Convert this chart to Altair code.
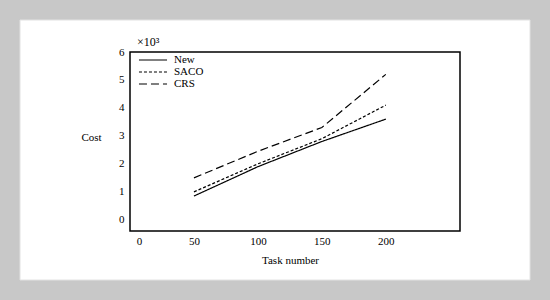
import altair as alt
import pandas as pd

tasks = [50, 100, 150, 200]
new_cost = [0.85, 1.9, 2.8, 3.6]
saco_cost = [1.0, 2.0, 2.9, 4.1]
crs_cost = [1.5, 2.45, 3.3, 5.2]
series = ["New", "SACO", "CRS"]
x_ticks = [0, 50, 100, 150, 200]
y_ticks = [0, 1, 2, 3, 4, 5, 6]

rows = []
for name, vals in zip(series, [new_cost, saco_cost, crs_cost]):
    for t, v in zip(tasks, vals):
        rows.append({"task": t, "cost": v, "series": name})
df = pd.DataFrame(rows)

FONT = "Liberation Serif"
one = pd.DataFrame({"a": [0]})

card = alt.Chart(one).mark_rect(
    color="white", stroke="#e2e2e2", strokeWidth=1
).encode(
    x=alt.value(-110), x2=alt.value(400), y=alt.value(-32), y2=alt.value(228)
)

frame = alt.Chart(one).mark_rect(
    fill=None, stroke="black", strokeWidth=1.5
).encode(
    x=alt.value(0), x2=alt.value(330), y=alt.value(0), y2=alt.value(179)
)

lines = alt.Chart(df).mark_line(color="black", strokeWidth=1.2).encode(
    x=alt.X("task:Q", scale=alt.Scale(domain=[0, 258], nice=False, zero=False),
            axis=alt.Axis(values=x_ticks, title="Task number", grid=False, ticks=False,
                          domain=False, labelFlush=False, labelPadding=4,
                          labelOffset={"condition": {"test": "datum.value === 0", "value": 9}, "value": 0},
                          titleX=160, titlePadding=8, zindex=1)),
    y=alt.Y("cost:Q", scale=alt.Scale(domain=[-0.4, 6], nice=False, zero=False),
            axis=alt.Axis(values=y_ticks, title="Cost", grid=False, ticks=False,
                          domain=False, labelPadding=6, titleAngle=0,
                          titleAlign="center", titleBaseline="middle",
                          titleX=-39, titleY=85, zindex=1)),
    strokeDash=alt.StrokeDash(
        "series:N",
        scale=alt.Scale(domain=series, range=[[1, 0], [3, 2], [8, 4]]),
        legend=alt.Legend(title=None, orient="none", legendX=16.5, legendY=1.5,
                          padding=0,
                          symbolType="M-2.55,0H2.55", symbolSize=121,
                          symbolStrokeColor="black", symbolStrokeWidth=1.2,
                          labelFontSize=11, rowPadding=0, labelOffset=14.5),
    ),
    detail="series:N",
)

exp_text = alt.Chart(pd.DataFrame({"t": ["×10³"]})).mark_text(
    font=FONT, fontSize=12, align="left", baseline="middle", color="black"
).encode(text="t:N", x=alt.value(7), y=alt.value(-10))

chart = alt.layer(card, lines, frame, exp_text).properties(
    width=330, height=179,
    autosize="none",
    padding={"left": 130, "top": 52, "right": 90, "bottom": 69},
    background="#c8c8c8",
).configure_view(
    stroke=None
).configure_axis(
    labelFont=FONT, titleFont=FONT, labelFontSize=11, titleFontSize=11,
    labelColor="black", titleColor="black", titleFontWeight="normal"
).configure_legend(
    labelFont=FONT, labelColor="black"
)

chart.save("out.html", embed_options={"renderer": "svg", "actions": False})
